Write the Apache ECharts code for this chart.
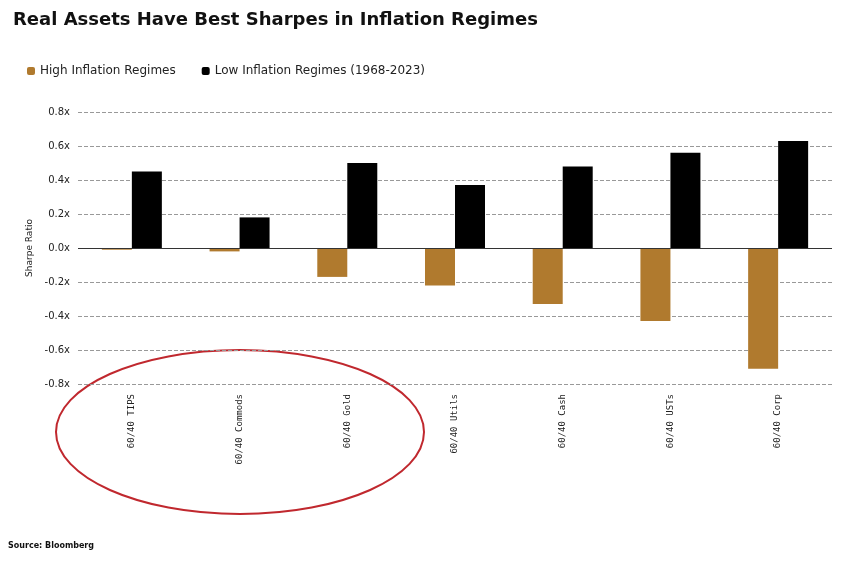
<!DOCTYPE html>
<html><head><meta charset="utf-8">
<script src="https://cdn.jsdelivr.net/npm/echarts@6/dist/echarts.min.js"></script>
<style>body{margin:0;background:#fff}#c{width:848px;height:563px}</style>
</head><body><div id="c"></div>
<script>
var categories = ['60/40 TIPS', '60/40 Commods', '60/40 Gold', '60/40 Utils', '60/40 Cash', '60/40 USTs', '60/40 Corp'];
var highInflation = [-0.01, -0.02, -0.17, -0.22, -0.33, -0.43, -0.71];
var lowInflation = [0.45, 0.18, 0.50, 0.37, 0.48, 0.56, 0.63];

var chart = echarts.init(document.getElementById('c'));
chart.setOption({
  backgroundColor: '#fff',
  animation: false,
  title: {
    text: 'Real Assets Have Best Sharpes in Inflation Regimes',
    left: 8, top: 6,
    textStyle: {fontFamily: 'DejaVu Sans', fontWeight: 'bold', fontSize: 18, color: '#111'}
  },
  legend: {
    left: 22, top: 60, itemWidth: 8, itemHeight: 8, itemGap: 26,
    textStyle: {fontFamily: 'DejaVu Sans', fontSize: 12, color: '#222'},
    data: ['High Inflation Regimes', 'Low Inflation Regimes (1968-2023)']
  },
  grid: {left: 78, right: 16, top: 112, bottom: 179},
  xAxis: {
    type: 'category', data: categories,
    axisLine: {show: false}, axisTick: {show: false},
    axisLabel: {rotate: 90, interval: 0, margin: 10, fontFamily: 'DejaVu Sans Mono', fontSize: 9, color: '#222', verticalAlign: 'middle'},
    position: 'bottom', offset: 0
  },
  yAxis: {
    type: 'value', min: -0.8, max: 0.8, interval: 0.2,
    name: 'Sharpe Ratio', nameLocation: 'middle', nameGap: 42, nameRotate: 90,
    nameTextStyle: {fontFamily: 'DejaVu Sans', fontSize: 9, color: '#222'},
    axisLabel: {fontFamily: 'DejaVu Sans', fontSize: 10, color: '#222',
      formatter: function (v) { return v.toFixed(1) + 'x'; }},
    splitLine: {lineStyle: {type: 'dashed', color: '#999'}},
    axisLine: {show: false}, axisTick: {show: false}
  },
  series: [
    {name: 'High Inflation Regimes', type: 'bar', data: highInflation, barWidth: 30, barGap: '0%',
     itemStyle: {color: '#b07a2e'},
     markLine: {silent: true, symbol: 'none', label: {show: false}, lineStyle: {color: '#333', type: 'solid', width: 1}, data: [{yAxis: 0}]}},
    {name: 'Low Inflation Regimes (1968-2023)', type: 'bar', data: lowInflation, barWidth: 30,
     itemStyle: {color: '#000'}}
  ],
  graphic: [
    {type: 'ellipse', shape: {cx: 240, cy: 432, rx: 184, ry: 82},
     style: {fill: 'none', stroke: '#c0282e', lineWidth: 2}},
    {type: 'text', left: 8, top: 542,
     style: {text: 'Source: Bloomberg', font: 'bold 8px DejaVu Sans', fill: '#111'}}
  ]
});
</script></body></html>
